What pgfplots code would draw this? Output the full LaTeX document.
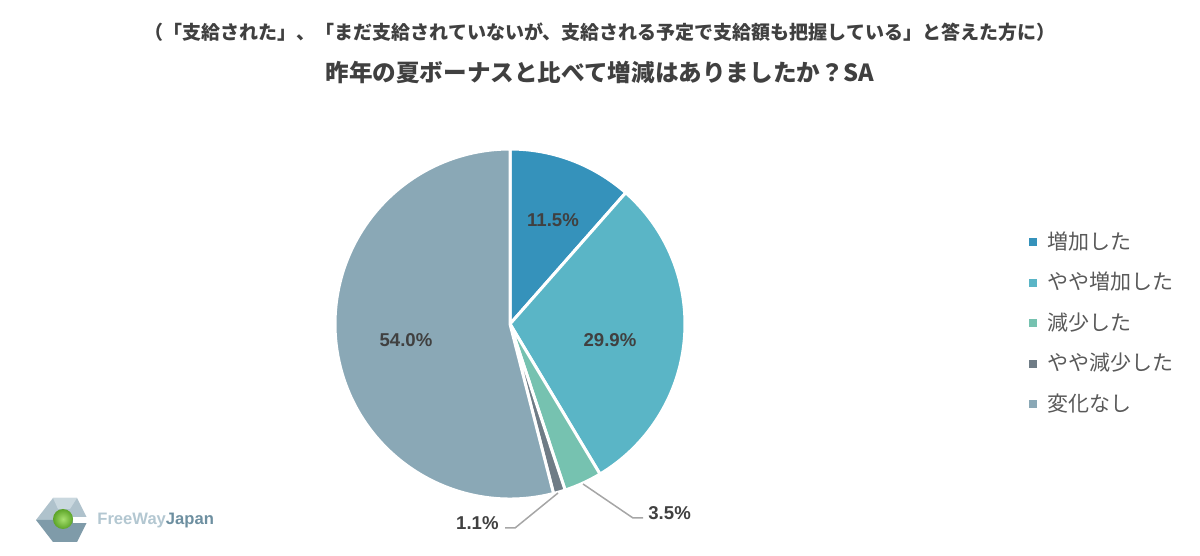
\documentclass[border=0pt]{standalone}
\usepackage{pgfplots}
\pgfplotsset{compat=1.18}
\usepackage{pgfplotstable}
\usepackage{fontspec}
\setmainfont{Liberation Sans}
\newfontfamily\jp{Noto Sans CJK JP}
\newfontfamily\lab{Liberation Sans}

\definecolor{c1}{HTML}{3592BB}
\definecolor{c2}{HTML}{5AB5C6}
\definecolor{c3}{HTML}{76C2B0}
\definecolor{c4}{HTML}{6F7C86}
\definecolor{c5}{HTML}{8AA8B6}
\definecolor{titlegray}{HTML}{404040}
\definecolor{leggray}{HTML}{595959}
\definecolor{leader}{HTML}{A6A6A6}
\definecolor{logolight}{HTML}{B3C7D1}
\definecolor{logoface}{HTML}{AFC2CC}
\definecolor{logoshade}{HTML}{7F9BA9}
\definecolor{logodark}{HTML}{6D8FA0}
\definecolor{logogreen}{HTML}{6CC12F}
\definecolor{logogreenhi}{HTML}{A8E070}

% share of answers, clockwise from 12 o'clock
\pgfplotstableread{
value col
11.5 c1
29.9 c2
3.5  c3
1.1  c4
54.0 c5
}\piedata

\begin{document}
\begin{tikzpicture}
\path[use as bounding box] (0,0) rectangle (600bp,278bp);
\begin{axis}[
  at={(0,0)}, anchor=south west,
  scale only axis, width=600bp, height=278bp,
  xmin=0, xmax=1200, ymin=0, ymax=556,
  hide axis, clip=false,
  legend image code/.code={\fill[#1] (0bp,-1.75bp) rectangle (3.5bp,1.75bp);},
  legend cell align=left,
  legend style={at={(axis cs:1029,233)}, anchor=west, draw=none, fill=none,
    inner sep=0pt, row sep=10bp, column sep=5bp,
    nodes={inner sep=0pt},
    font=\jp\fontsize{10.5bp}{12bp}\selectfont\color{leggray}},
]
% pie slices
\pgfplotstablegetrowsof{\piedata}
\pgfmathtruncatemacro\lastrow{\pgfplotsretval-1}
\def\cum{0}
\pgfplotsforeachungrouped \i in {0,...,\lastrow}{%
  \pgfplotstablegetelem{\i}{value}\of\piedata \let\sval\pgfplotsretval
  \pgfplotstablegetelem{\i}{col}\of\piedata \let\scol\pgfplotsretval
  \pgfmathsetmacro\sa{90-3.6*\cum}%
  \pgfmathsetmacro\sb{90-3.6*(\cum+\sval)}%
  \pgfmathsetmacro\cum{\cum+\sval}%
  \edef\slice{\noexpand\fill[\scol, draw=white, line width=1.5bp, line join=round]
    (axis cs:510,232) -- ++(\sa:87.5bp) arc[start angle=\sa, end angle=\sb, radius=87.5bp] -- cycle;}%
  \slice
}
\addlegendimage{c1}\addlegendentry{増加した}
\addlegendimage{c2}\addlegendentry{やや増加した}
\addlegendimage{c3}\addlegendentry{減少した}
\addlegendimage{c4}\addlegendentry{やや減少した}
\addlegendimage{c5}\addlegendentry{変化なし}

% value labels
\begin{scope}[every node/.style={font=\lab\bfseries\fontsize{9.3bp}{11bp}\selectfont, text=titlegray}]
\node at (axis cs:553,336) {11.5\%};
\node at (axis cs:610,216) {29.9\%};
\node at (axis cs:406,216) {54.0\%};
\draw[leader, line width=0.75bp] (axis cs:583,72) -- (axis cs:633,38) -- (axis cs:643,38);
\node[anchor=west, inner sep=0pt] at (axis cs:648,43) {3.5\%};
\draw[leader, line width=0.75bp] (axis cs:558,63) -- (axis cs:515,28) -- (axis cs:505,28);
\node[anchor=east, inner sep=0pt] at (axis cs:499,33) {1.1\%};
\end{scope}

% titles
\node[font=\jp\bfseries\fontsize{9.5bp}{11bp}\selectfont, text=titlegray] at (axis cs:600,524)
  {（「支給された」、「まだ支給されていないが、支給される予定で支給額も把握している」と答えた方に）};
\node[font=\jp\bfseries\fontsize{11.8bp}{13bp}\selectfont, text=titlegray] at (axis cs:600,484)
  {昨年の夏ボーナスと比べて増減はありましたか？SA};

% logo
\fill[logoface] (axis cs:36,36) -- (axis cs:53,58) -- (axis cs:77,58) -- (axis cs:88,36) -- cycle;
\fill[logolight!70!white] (axis cs:53,58) -- (axis cs:77,58) -- (axis cs:70,47) -- (axis cs:58,47) -- cycle;
\fill[logoshade] (axis cs:36,36) -- (axis cs:88,36) -- (axis cs:77,14) -- (axis cs:53,14) -- cycle;
\fill[white] (axis cs:73,33) rectangle (axis cs:92,39);
\shade[inner color=logogreenhi, outer color=logogreen!85!black] (axis cs:63,37) circle[radius=5bp];
\node[anchor=west, inner sep=0pt, font=\lab\bfseries\fontsize{8.3bp}{10bp}\selectfont] at (axis cs:97,35)
  {\textcolor{logolight}{FreeWay}\textcolor{logodark}{Japan}};
\end{axis}
\end{tikzpicture}
\end{document}
